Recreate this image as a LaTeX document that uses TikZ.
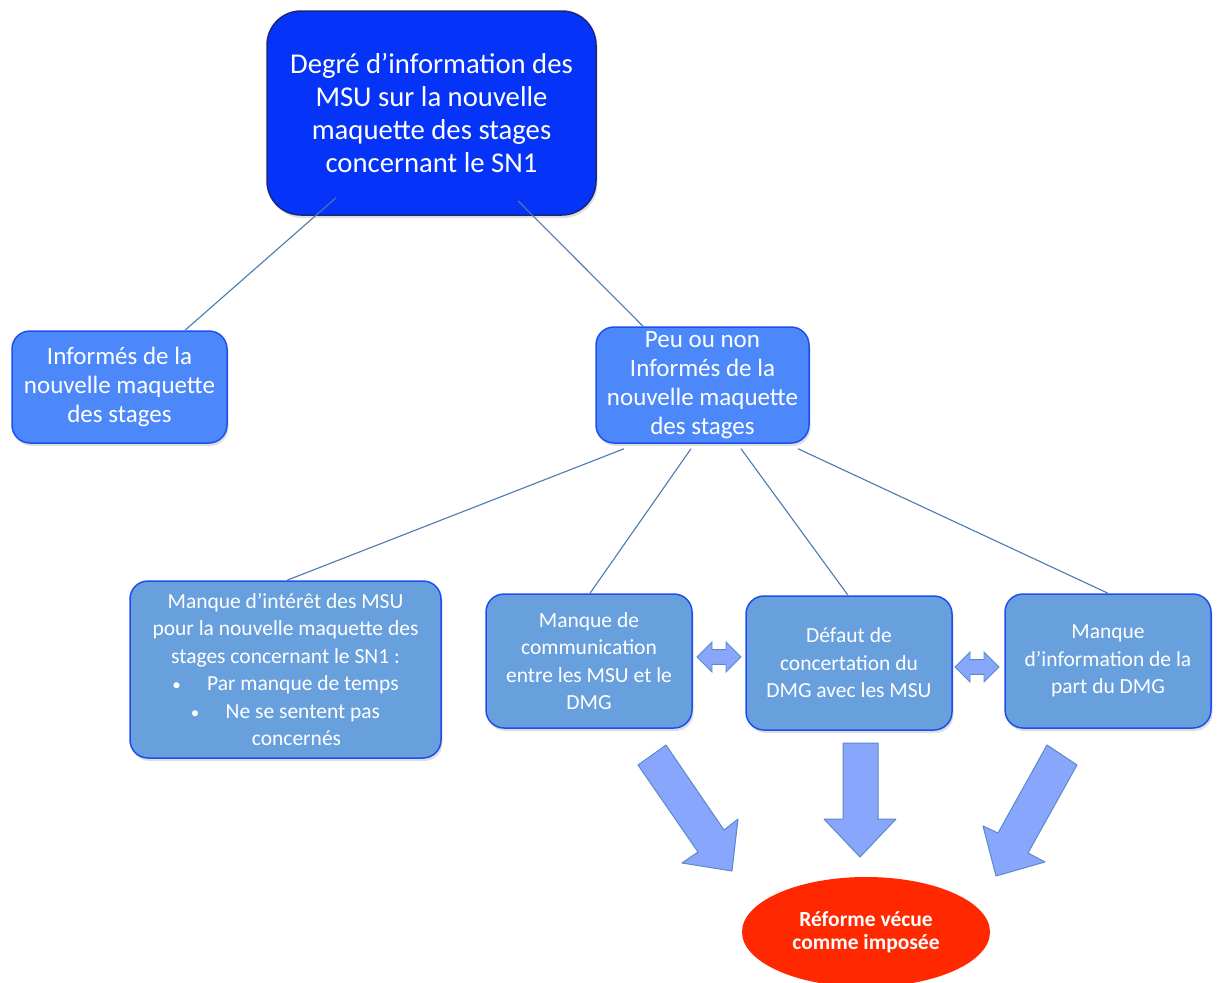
\documentclass[tikz,border=0pt]{standalone}
\usepackage{fontspec}
\setmainfont{Carlito}
\usetikzlibrary{shapes.geometric, shapes.arrows, shadows, calc}

\definecolor{topblue}{RGB}{5,52,248}
\definecolor{topedge}{RGB}{22,40,130}
\definecolor{midblue}{RGB}{76,136,250}
\definecolor{lowblue}{RGB}{104,160,222}
\definecolor{boxedge}{RGB}{30,78,240}
\definecolor{linkblue}{RGB}{74,122,174}
\definecolor{arrowfill}{RGB}{136,166,252}
\definecolor{arrowedge}{RGB}{90,139,199}
\definecolor{reformred}{RGB}{255,40,0}

\newcommand{\bul}{{\fontsize{17}{27.5}\selectfont\textbullet}\quad\ }

\tikzset{
  box/.style={draw=boxedge, line width=1.5pt, rounded corners=18pt, align=center,
    text=white, inner sep=0pt,
    drop shadow={shadow xshift=1.5pt, shadow yshift=-3pt, opacity=0.25}},
  topbox/.style={box, fill=topblue, draw=topedge, rounded corners=34pt,
    font=\fontsize{28.7}{33}\selectfont},
  midbox/.style={box, fill=midblue, font=\fontsize{25}{29}\selectfont},
  lowbox/.style={box, fill=lowblue, font=\fontsize{21.5}{27.5}\selectfont},
  link/.style={draw=linkblue, line width=1.1pt},
  dblarrow/.style={double arrow, draw=arrowedge, fill=arrowfill, line width=0.8pt,
    inner sep=0pt, inner ysep=6.5pt, minimum height=44pt, minimum width=30pt},
  bigarrow/.style={draw=arrowedge, fill=arrowfill, line width=1pt, line join=round}
}

\begin{document}
\begin{tikzpicture}[x=1pt, y=-1pt]
    \useasboundingbox (0,0) rectangle (1219,983);

    % Top box
    \node[topbox, minimum width=329pt, minimum height=204pt] (top) at (431.5,113)
        {Degré d’information des\\MSU sur la nouvelle\\maquette des stages\\concernant le SN1};

    % Second level
    \node[midbox, minimum width=215pt, minimum height=112pt] (inf) at (119.5,387)
        {Informés de la\\nouvelle maquette\\des stages};
    \node[midbox, minimum width=213pt, minimum height=116pt] (peu) at (702.5,385)
        {Peu ou non\\Informés de la\\nouvelle maquette\\des stages};

    % Third level
    \node[lowbox, minimum width=311pt, minimum height=177pt] (interet) at (285.5,669.5)
        {Manque d’intérêt des MSU\\pour la nouvelle maquette des\\stages concernant le SN1 :\\
         \bul Par manque de temps\\\bul Ne se sentent pas\\
         \hspace*{22pt}concernés};
    \node[lowbox, minimum width=206pt, minimum height=134pt] (comm) at (589,661)
        {Manque de\\communication\\entre les MSU et le\\DMG};
    \node[lowbox, minimum width=206pt, minimum height=134pt] (defaut) at (849,663)
        {Défaut de\\concertation du\\DMG avec les MSU};
    \node[lowbox, minimum width=206pt, minimum height=134pt] (dmg) at (1108,661)
        {Manque\\d’information de la\\part du DMG};

    % Result
    \node[ellipse, fill=reformred, text=white, minimum width=248pt, minimum height=110pt,
        align=center, font=\bfseries\fontsize{21.5}{23}\selectfont] (reforme) at (866,932)
        {Réforme vécue\\comme imposée};

    % Links
    \draw[link] ($(top.south)+(-95.5,-18)$) -- (inf.north -| 185,0);
    \draw[link] ($(top.south)+(86.5,-15)$) -- (peu.north -| 643,0);
    \draw[link] ($(peu.south)+(-78.5,5)$) -- (interet.north -| 287,0);
    \draw[link] ($(peu.south)+(-11.5,5)$) -- (comm.north -| 590,0);
    \draw[link] ($(peu.south)+(38.5,5)$) -- (defaut.north -| 848,0);
    \draw[link] ($(peu.south)+(95.5,5)$) -- (dmg.north -| 1108,0);

    % Double arrows between the boxes
    \node[dblarrow] (a1) at (719,657) {};
    \node[dblarrow] (a2) at (977,667) {};

    % Big arrows towards the result
    \draw[bigarrow] (638,765) -- (666,745) -- (724,830) -- (738,819) -- (732,871)
        -- (682,863) -- (698,852) -- cycle;
    \draw[bigarrow] (843,743) -- (878,743) -- (878,819) -- (896,819) -- (860,857)
        -- (824,819) -- (843,819) -- cycle;
    \draw[bigarrow] (1047,745) -- (1077,765) -- (1028,853) -- (1045,862) -- (996,876)
        -- (983,826) -- (998,833) -- cycle;

\end{tikzpicture}
\end{document}
